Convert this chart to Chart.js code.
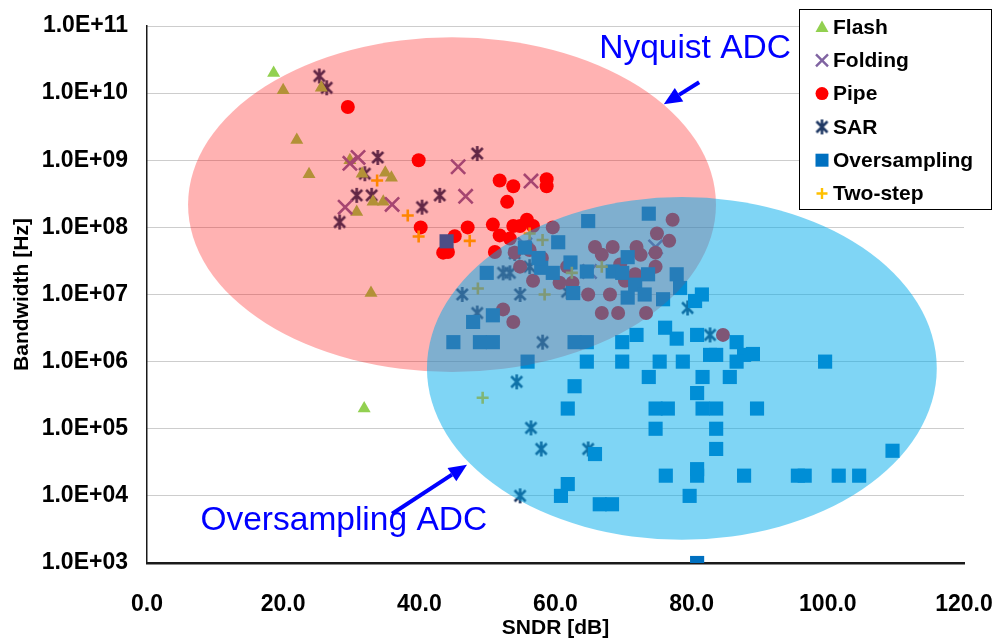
<!DOCTYPE html>
<html><head><meta charset="utf-8">
<script src="https://cdn.jsdelivr.net/npm/chart.js@4/dist/chart.umd.min.js"></script>
<style>html,body{margin:0;padding:0;background:#fff}</style>
</head><body>
<canvas id="c" width="999" height="638"></canvas>
<script>
// ---------- DATA ----------
const seriesNames = ['Flash','Folding','Pipe','SAR','Oversampling','Two-step'];
const flash = [[18.6,2e10],[20.0,1.1e10],[25.6,1.2e10],[22.0,2e9],[23.8,6.2e8],[29.8,1e9],[31.6,6.3e8],[35.0,6.5e8],[35.9,5.5e8],[30.8,1.7e8],[33.2,2.4e8],[34.7,2.4e8],[32.9,1.05e7],[31.9,2e5]];
const folding = [[29.1,2e8],[29.8,9e8],[31.0,1.1e9],[36.0,2.2e8],[45.7,8e8],[46.8,2.9e8],[56.4,4.9e8],[55.5,5.5e7],[65.0,2.2e7],[74.7,5.1e7]];
const pipe = [[29.5,6.2e9],[39.9,1e9],[40.2,1e8],[51.8,5e8],[53.8,4.1e8],[58.7,5.2e8],[58.7,4.1e8],[52.9,2.4e8],[47.1,1e8],[45.2,7.4e7],[43.5,4.2e7],[44.2,4.3e7],[50.8,1.1e8],[51.8,7.6e7],[53.8,1.05e8],[54.8,1.05e8],[55.8,1.3e8],[56.7,1.05e8],[53.3,6.8e7],[51.1,4.3e7],
  [59.6,1e8],[56.2,4.6e7],[54.8,2.6e7],[56.7,1.6e7],[61.7,2.6e7],[60.6,1.5e7],[54.0,4.2e7],[53.8,3.9e6],[52.3,6e6],[77.2,1.3e8],[74.9,8.1e7],[76.7,6.3e7],[74.7,4.2e7],[74.7,2.6e7],[65.8,5.1e7],[68.4,5.1e7],[71.9,5.1e7],[72.5,3.9e7],[66.8,3.9e7],[71.7,2e7],[70.2,1.6e7],[64.8,1e7],[68.0,1e7],[66.8,5.3e6],[69.2,5.3e6],[73.3,5.3e6],[84.6,2.5e6],[58.0,3.5e7],[62.5,1.5e7],[69.5,2.8e7]];
const sar = [[25.3,1.8e10],[26.4,1.2e10],[33.9,1.1e9],[32.0,6.3e8],[30.8,3e8],[33.0,3e8],[28.3,1.2e8],[40.4,2e8],[48.5,1.26e9],[43.0,3e8],[54.0,4.1e7],[55.8,4.9e7],[52.3,2.1e7],[53.3,2.1e7],[46.3,1e7],[54.8,1e7],[56.2,2.6e7],[61.7,1.1e7],[48.5,5.3e6],[79.4,6.3e6],[58.1,1.95e6],[54.3,5e5],[56.4,1.03e5],[57.9,5e4],[64.8,5e4],[54.8,1e4],[82.7,2.5e6]];
const oversampling = [[44.0,6.2e7],[64.8,1.24e8],[60.4,6e7],[49.9,2.1e7],[57.9,2.5e7],[59.6,2.1e7],[62.6,1.05e7],[62.2,3e7],[50.8,4.9e6],[47.9,3.9e6],[45.0,1.95e6],[48.9,1.95e6],[50.8,1.95e6],[55.9,1e6],[62.8,4.3e5],[61.8,2e5],[62.8,1.95e6],
  [73.7,1.6e8],[70.6,3.6e7],[68.4,2.2e7],[64.6,2.2e7],[69.8,2.1e7],[71.7,1.4e7],[73.6,2e7],[77.8,2e7],[70.6,9e6],[73.1,1e7],[75.8,8.5e6],[78.3,1.25e7],[81.5,1e7],[80.5,8e6],
  [64.6,1.95e6],[69.8,1.95e6],[71.9,2.5e6],[76.1,3.2e6],[77.8,2.2e6],[80.8,2.5e6],[86.6,1.95e6],[87.7,1.26e6],[82.7,1.26e6],[83.6,1.26e6],[64.6,1e6],[69.8,1e6],[75.3,1e6],[78.7,1e6],[86.6,1e6],[89.0,1.3e6],[73.7,5.9e5],[81.6,5.9e5],[85.6,5.9e5],[80.8,3.4e5],[74.7,2e5],[76.5,2e5],[81.6,2e5],[83.6,2e5],[74.7,1e5],[83.6,1e5],[83.6,5e4],[65.8,4.2e4],[99.6,1e6],[89.6,2e5],[109.5,4.7e4],[61.8,1.5e4],[60.8,1e4],[66.5,7.5e3],[68.3,7.5e3],[76.2,2e4],[80.8,2.5e4],[80.8,2e4],[79.7,1e4],[87.7,2e4],[95.6,2e4],[96.6,2e4],[101.6,2e4],[104.6,2e4],[80.8,1e3],[55.5,5e7],[57.5,3.5e7]];
const twoStep = [[33.8,5e8],[38.3,1.5e8],[39.9,7.3e7],[47.4,6.3e7],[56.2,8.1e7],[58.1,6.5e7],[48.6,1.23e7],[58.4,1e7],[62.4,2.1e7],[66.8,2.6e7],[49.3,2.9e5]];
const xTicks = [0,20,40,60,80,100,120];
const yTicks = [1e3,1e4,1e5,1e6,1e7,1e8,1e9,1e10,1e11];

// ---------- ANNOTATIONS (data-space) ----------
const regions = [
  {cx:44.8, cLog:8.339, rx:38.77, rLog:2.493, fill:'rgba(255,0,0,0.30)'},
  {cx:78.56, cLog:5.899, rx:37.44, rLog:2.552, fill:'rgba(0,172,235,0.50)'}
];
const notes = [
  {text:'Nyquist ADC', x:80.5, log:10.668, tail:[81.1,10.161], head:[75.9,9.833]},
  {text:'Oversampling ADC', x:28.9, log:3.63, tail:[36.0,3.734], head:[47.0,4.463]}
];

const FONT = "'Liberation Sans', Arial, sans-serif";
const colors = {Flash:'#92D050', Folding:'#8064A2', Pipe:'#FF0000', SAR:'#1F3864', Oversampling:'#0070C0', 'Two-step':'#FFC000'};

function makeAsterisk(color){
  const c = document.createElement('canvas'); c.width = 17; c.height = 17;
  const g = c.getContext('2d'); g.strokeStyle = color; g.lineWidth = 2.6; g.lineCap = 'butt';
  g.beginPath();
  g.moveTo(3,3); g.lineTo(14,14); g.moveTo(14,3); g.lineTo(3,14);
  g.moveTo(8.5,1); g.lineTo(8.5,16);
  g.stroke();
  return c;
}
const asterisk = makeAsterisk(colors.SAR);

const toXY = a => a.map(p => ({x:p[0], y:p[1]}));

const datasets = [
  {label:'SAR', data:toXY(sar), pointStyle:asterisk, pointRadius:8, borderColor:colors.SAR, backgroundColor:colors.SAR, order:6},
  {label:'Flash', data:toXY(flash), pointStyle:'triangle', pointRadius:7.5, borderWidth:0, borderColor:colors.Flash, backgroundColor:colors.Flash, order:5},
  {label:'Folding', data:toXY(folding), pointStyle:'crossRot', pointRadius:10, borderWidth:2.6, borderColor:colors.Folding, backgroundColor:colors.Folding, order:4},
  {label:'Pipe', data:toXY(pipe), pointStyle:'circle', pointRadius:7, borderWidth:0, borderColor:colors.Pipe, backgroundColor:colors.Pipe, order:3},
  {label:'Oversampling', data:toXY(oversampling), pointStyle:'rect', pointRadius:10, borderWidth:0, borderColor:colors.Oversampling, backgroundColor:colors.Oversampling, order:2},
  {label:'Two-step', data:toXY(twoStep), pointStyle:'cross', pointRadius:6, borderWidth:2.6, borderColor:colors['Two-step'], backgroundColor:colors['Two-step'], order:1}
];
datasets.forEach(d => { d.pointHoverRadius = d.pointRadius; d.showLine = false; });

const overlayPlugin = {
  id:'overlay',
  afterDatasetsDraw(chart){
    const {ctx, scales:{x, y}} = chart;
    ctx.save();
    regions.forEach(r => {
      const cx = x.getPixelForValue(r.cx);
      const cy = y.getPixelForValue(Math.pow(10, r.cLog));
      const rx = x.getPixelForValue(r.cx + r.rx) - cx;
      const ry = (y.getPixelForValue(Math.pow(10, r.cLog - r.rLog)) - y.getPixelForValue(Math.pow(10, r.cLog + r.rLog))) / 2;
      ctx.beginPath(); ctx.ellipse(cx, cy, rx, ry, 0, 0, Math.PI*2);
      ctx.fillStyle = r.fill; ctx.fill();
    });
    notes.forEach(n => {
      ctx.fillStyle = '#0000FF'; ctx.strokeStyle = '#0000FF';
      ctx.font = '33.5px ' + FONT; ctx.textAlign = 'center'; ctx.textBaseline = 'middle';
      ctx.fillText(n.text, x.getPixelForValue(n.x), y.getPixelForValue(Math.pow(10, n.log)));
      const tx = x.getPixelForValue(n.tail[0]), ty = y.getPixelForValue(Math.pow(10, n.tail[1]));
      const hx = x.getPixelForValue(n.head[0]), hy = y.getPixelForValue(Math.pow(10, n.head[1]));
      const ang = Math.atan2(hy - ty, hx - tx);
      const L = 18, W = 8;
      const bx = hx - L*Math.cos(ang), by = hy - L*Math.sin(ang);
      ctx.lineWidth = 4; ctx.beginPath(); ctx.moveTo(tx, ty); ctx.lineTo(bx, by); ctx.stroke();
      ctx.beginPath(); ctx.moveTo(hx, hy);
      ctx.lineTo(bx + W*Math.sin(ang), by - W*Math.cos(ang));
      ctx.lineTo(bx - W*Math.sin(ang), by + W*Math.cos(ang));
      ctx.closePath(); ctx.fill();
    });
    ctx.restore();
  }
};

function drawMarker(ctx, name, x, y){
  const c = colors[name];
  ctx.save(); ctx.fillStyle = c; ctx.strokeStyle = c; ctx.lineWidth = 2.4;
  if (name === 'Flash'){ ctx.beginPath(); ctx.moveTo(x, y-6.5); ctx.lineTo(x+6.5, y+5); ctx.lineTo(x-6.5, y+5); ctx.closePath(); ctx.fill(); }
  else if (name === 'Folding'){ ctx.beginPath(); ctx.moveTo(x-6,y-6); ctx.lineTo(x+6,y+6); ctx.moveTo(x+6,y-6); ctx.lineTo(x-6,y+6); ctx.stroke(); }
  else if (name === 'Pipe'){ ctx.beginPath(); ctx.arc(x, y, 6.5, 0, Math.PI*2); ctx.fill(); }
  else if (name === 'SAR'){ ctx.drawImage(asterisk, x-8.5, y-8.5); }
  else if (name === 'Oversampling'){ ctx.fillRect(x-6.5, y-6.5, 13, 13); }
  else { ctx.beginPath(); ctx.moveTo(x-5.5,y); ctx.lineTo(x+5.5,y); ctx.moveTo(x,y-5.5); ctx.lineTo(x,y+5.5); ctx.stroke(); }
  ctx.restore();
}

const legendPlugin = {
  id:'boxLegend',
  afterDraw(chart){
    const ctx = chart.ctx;
    const L = 799, T = 9, R = 991, B = 209;
    ctx.save();
    ctx.fillStyle = '#fff'; ctx.fillRect(L, T, R-L, B-T);
    ctx.strokeStyle = '#000'; ctx.lineWidth = 1; ctx.strokeRect(L+0.5, T+0.5, R-L, B-T);
    ctx.font = 'bold 21px ' + FONT; ctx.fillStyle = '#000'; ctx.textAlign = 'left'; ctx.textBaseline = 'middle';
    seriesNames.forEach((n, i) => {
      const yy = 27 + i*33.3;
      drawMarker(ctx, n, 822, yy);
      ctx.fillStyle = '#000';
      ctx.fillText(n, 833, yy + 1);
    });
    ctx.restore();
  }
};

new Chart(document.getElementById('c'), {
  type:'scatter',
  data:{datasets},
  options:{
    responsive:false, animation:false,
    layout:{padding:{left:0, right:35, top:26, bottom:0}},
    plugins:{legend:{display:false}, tooltip:{enabled:false}},
    scales:{
      x:{
        type:'linear', min:0, max:120,
        afterBuildTicks: s => { s.ticks = xTicks.map(v => ({value:v})); },
        afterFit: s => { s.height = 75; s.paddingLeft = 0; s.paddingRight = 0; },
        grid:{display:false, drawTicks:false},
        border:{display:true, color:'#1a1a1a', width:2.5},
        ticks:{padding:28, color:'#000', font:{family:FONT, size:23, weight:'bold'}, callback:v => Number(v).toFixed(1), maxRotation:0},
        title:{display:true, text:'SNDR [dB]', color:'#000', font:{family:FONT, size:21, weight:'bold'}, padding:{top:0, bottom:-3}}
      },
      y:{
        type:'logarithmic', min:1e3, max:1e11,
        afterBuildTicks: s => { s.ticks = yTicks.map(v => ({value:v})); },
        afterFit: s => { s.width = 147; s.paddingTop = 0; s.paddingBottom = 0; },
        grid:{display:true, drawTicks:false, color:'#9a9a9a', lineWidth:1},
        border:{display:true, color:'#1a1a1a', width:1.5, dash:[1,1]},
        ticks:{padding:19, color:'#000', font:{family:FONT, size:23, weight:'bold'},
          callback:v => '1.0E+' + String(Math.round(Math.log10(v))).padStart(2,'0')},
        title:{display:true, text:'Bandwidth [Hz]', color:'#000', font:{family:FONT, size:21, weight:'bold'}, padding:{top:10, bottom:0}}
      }
    }
  },
  plugins:[overlayPlugin, legendPlugin]
});
</script>
</body></html>
